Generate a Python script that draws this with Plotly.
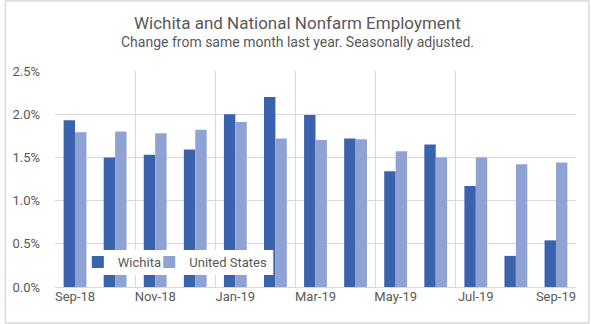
import plotly.graph_objects as go

# Year-over-year change in nonfarm employment, percent
months = ["Sep-18", "Oct-18", "Nov-18", "Dec-18", "Jan-19", "Feb-19", "Mar-19",
          "Apr-19", "May-19", "Jun-19", "Jul-19", "Aug-19", "Sep-19"]
wichita = [1.93, 1.50, 1.53, 1.59, 2.00, 2.20, 1.99, 1.72, 1.34, 1.65, 1.17, 0.36, 0.54]
united_states = [1.79, 1.80, 1.78, 1.82, 1.91, 1.72, 1.70, 1.71, 1.57, 1.50, 1.50, 1.42, 1.44]
y_ticks = [0.0, 0.5, 1.0, 1.5, 2.0, 2.5]

x_pos = list(range(len(months)))
label_idx = x_pos[::2]

FONT = "Roboto, Arial, sans-serif"
GRAY = "#595959"
GRID = "#d9d9d9"
PLOT_W, PLOT_H = 525, 216   # plot area size in px (591 - 51 - 15, 324 - 71 - 37)


def px_x(p):
    """Horizontal page pixel -> paper fraction."""
    return (p - 51) / PLOT_W


def px_y(p):
    """Vertical page pixel -> paper fraction."""
    return (287 - p) / PLOT_H


fig = go.Figure()
fig.add_trace(go.Bar(x=x_pos, y=wichita, name="Wichita", marker_color="#3b62ad",
                     marker_line_width=0, legend="legend2"))
fig.add_trace(go.Bar(x=x_pos, y=united_states, name="United States", marker_color="#8fa2d4",
                     marker_line_width=0, legend="legend"))

legend_common = dict(orientation="h", yanchor="middle", xanchor="left",
                     bgcolor="rgba(0,0,0,0)", borderwidth=0,
                     font=dict(size=13, color=GRAY, family=FONT))

fig.update_layout(
    width=591, height=324,
    margin=dict(l=51, r=15, t=71, b=37),
    paper_bgcolor="white", plot_bgcolor="white",
    barmode="group", bargap=0.43, bargroupgap=0,
    font=dict(family=FONT, color=GRAY, size=13),
    showlegend=True,
    legend2=dict(x=px_x(74), y=px_y(262), **legend_common),
    legend=dict(x=px_x(146), y=px_y(262), **legend_common),
    xaxis=dict(
        range=[-0.5, len(months) - 0.5],
        tickvals=label_idx, ticktext=[months[i] for i in label_idx],
        showgrid=False, zeroline=False, showline=False, ticks="",
        tickfont=dict(size=13, color=GRAY),
        minor=dict(tickvals=[i - 0.5 for i in label_idx[:-1]], showgrid=True,
                   gridcolor=GRID, gridwidth=1, ticks=""),
        fixedrange=True,
    ),
    yaxis=dict(
        range=[0, 2.5], tickvals=y_ticks, ticktext=[f"{v:.1f}%" for v in y_ticks],
        showgrid=True, gridcolor=GRID, gridwidth=1, zeroline=True, zerolinecolor=GRID,
        zerolinewidth=1, showline=False, ticks="", ticklabelstandoff=14,
        tickfont=dict(size=13, color=GRAY),
        fixedrange=True,
    ),
    annotations=[
        dict(text="Wichita and National Nonfarm Employment", xref="paper", yref="paper",
             x=px_x(295), y=px_y(23), xanchor="center", yanchor="middle",
             showarrow=False, font=dict(size=17, color=GRAY, family=FONT)),
        dict(text="Change from same month last year. Seasonally adjusted.", xref="paper",
             yref="paper", x=px_x(295), y=px_y(42), xanchor="center",
             yanchor="middle", showarrow=False, font=dict(size=14, color=GRAY, family=FONT)),
    ],
    shapes=[
        # white panel behind the legend entries
        dict(type="rect", xref="paper", yref="paper",
             x0=px_x(86), x1=px_x(271), y0=px_y(275), y1=px_y(250),
             line=dict(width=0), fillcolor="white", layer="above"),
        # outer frame
        dict(type="rect", xref="paper", yref="paper",
             x0=px_x(1), x1=px_x(589), y0=px_y(323), y1=px_y(1),
             line=dict(color=GRID, width=1.5), fillcolor="rgba(0,0,0,0)", layer="below"),
    ],
)

fig.write_html("out.html")
